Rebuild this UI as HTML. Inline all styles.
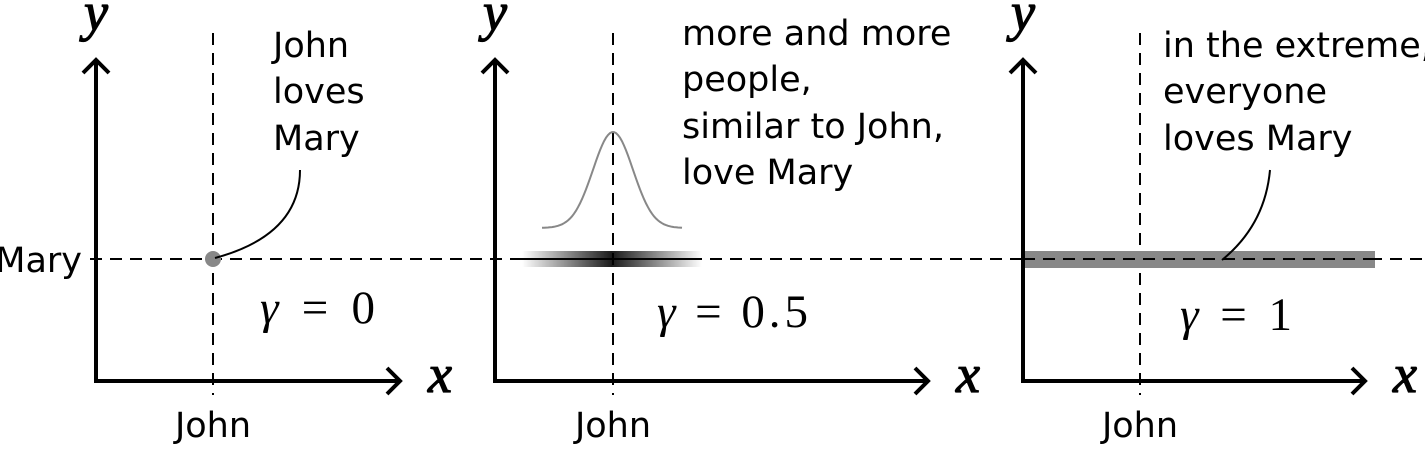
<!DOCTYPE html>
<html><head><meta charset="utf-8"><style>
body{margin:0;background:#fff}
text{font-family:"DejaVu Sans","Liberation Sans",sans-serif}
.t{font-size:35px;fill:#000}
.m{font-family:"Liberation Serif",serif;font-size:47px}
</style></head><body>
<svg width="1425" height="444" viewBox="0 0 1425 444" xmlns="http://www.w3.org/2000/svg">
<defs>
<linearGradient id="g" x1="0" x2="1">
<stop offset="0" stop-color="#000" stop-opacity="0"/>
<stop offset="0.5" stop-color="#000" stop-opacity="1"/>
<stop offset="1" stop-color="#000" stop-opacity="0"/>
</linearGradient>
</defs>
<line x1="90" y1="259" x2="1425" y2="259" stroke="#000" stroke-width="2" stroke-dasharray="12,8"/>
<text class="t" x="82" y="272" text-anchor="end">Mary</text>

<g>
<line x1="213" y1="33" x2="213" y2="395" stroke="#000" stroke-width="2" stroke-dasharray="12,8"/>
<circle cx="213" cy="259" r="8" fill="#888"/>
<path d="M300 170 Q300 235 215 258" fill="none" stroke="#000" stroke-width="2"/>
<text class="t" x="273" y="57">John</text>
<text class="t" x="273" y="103">loves</text>
<text class="t" x="273" y="150">Mary</text>
<text class="m" x="260" y="323" textLength="115" lengthAdjust="spacing"><tspan font-style="italic">γ</tspan> = 0</text>
</g>

<g>
<line x1="613" y1="33" x2="613" y2="395" stroke="#000" stroke-width="2" stroke-dasharray="12,8"/>
<rect x="522" y="251" width="180" height="16" fill="url(#g)" opacity="0.9"/>
<line x1="522" y1="259" x2="702" y2="259" stroke="#000" stroke-width="2" stroke-dasharray="12,8"/>
<path id="gauss" fill="none" stroke="#888" stroke-width="2"/>
<text class="t" x="682" y="45">more and more</text>
<text class="t" x="682" y="91">people,</text>
<text class="t" x="682" y="138">similar to John,</text>
<text class="t" x="682" y="184">love Mary</text>
<text class="m" x="657" y="327" textLength="151" lengthAdjust="spacing"><tspan font-style="italic">γ</tspan> = 0.5</text>
</g>

<g>
<line x1="1140" y1="33" x2="1140" y2="395" stroke="#000" stroke-width="2" stroke-dasharray="12,8"/>
<rect x="1023" y="251" width="352" height="17" fill="#888"/>
<line x1="1023" y1="259" x2="1375" y2="259" stroke="#000" stroke-width="2" stroke-dasharray="12,8"/>
<path d="M1270 170 Q1265 225 1222 260" fill="none" stroke="#000" stroke-width="2"/>
<text class="t" x="1163" y="57">in the extreme,</text>
<text class="t" x="1163" y="103">everyone</text>
<text class="t" x="1163" y="150">loves Mary</text>
<text class="m" x="1180" y="330" textLength="112" lengthAdjust="spacing"><tspan font-style="italic">γ</tspan> = 1</text>
</g>
</svg>
<script>
const panelAxisX=[96,495,1023];
const panelXEnd=[400,928,1365];
const johnX=[213,613,1140];
const svg=document.querySelector('svg');
const NS='http://www.w3.org/2000/svg';
for(let i=0;i<3;i++){
  const a=panelAxisX[i], e=panelXEnd[i];
  const p=document.createElementNS(NS,'path');
  
  
  p.setAttribute('d',`M${a} 60 L${a} 381 L${e} 381 M${a-13} 73 L${a} 60 L${a+13} 73 M${e-13} 368 L${e} 381 L${e-13} 394`);
  p.setAttribute('fill','none');p.setAttribute('stroke','#000');p.setAttribute('stroke-width','4');
  svg.appendChild(p);
  const y=document.createElementNS(NS,'text');
  
  
  y.setAttribute('x',a);y.setAttribute('y',30);y.setAttribute('text-anchor','middle');
  y.setAttribute('style','font-family:"Liberation Serif",serif;font-style:italic;font-size:54px;stroke:#000;stroke-width:1.2');
  y.textContent='y';svg.appendChild(y);
  const x=document.createElementNS(NS,'text');
  
  
  x.setAttribute('x',e+40);x.setAttribute('y',392);x.setAttribute('text-anchor','middle');
  x.setAttribute('style','font-family:"Liberation Serif",serif;font-style:italic;font-size:54px;stroke:#000;stroke-width:1.2');
  x.textContent='x';svg.appendChild(x);
  const j=document.createElementNS(NS,'text');
  
  
  j.setAttribute('x',johnX[i]);j.setAttribute('y',437);j.setAttribute('text-anchor','middle');j.setAttribute('class','t');
  j.textContent='John';svg.appendChild(j);
}
let d='';
for(let k=0;k<=70;k++){const x=542+k*2;const u=(x-613)/20;const y=228-96*Math.exp(-u*u/2);d+=(k?'L':'M')+x+' '+y.toFixed(1);}
document.getElementById('gauss').setAttribute('d',d);
</script>
</body></html>
